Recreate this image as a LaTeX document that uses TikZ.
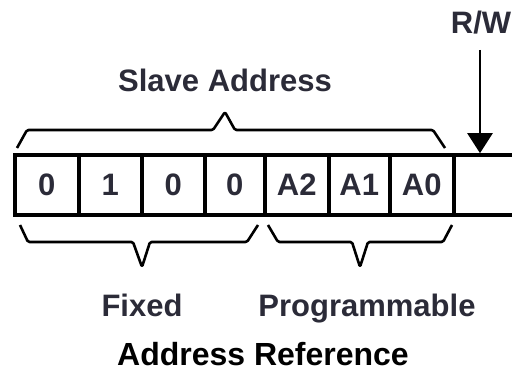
\documentclass[tikz,border=0pt]{standalone}
\usepackage{fontspec}
\setmainfont{Liberation Sans}
\usetikzlibrary{arrows.meta}
\definecolor{txtgray}{HTML}{2B2B38}
\tikzset{
  cell/.style={draw=black, line width=3.6pt, minimum height=60pt, inner sep=0pt, anchor=west,
    font=\fontsize{31}{31}\selectfont\bfseries, text=txtgray},
  brace/.style={draw=black, line width=2.6pt, rounded corners=1.5pt, line join=round},
  lbl/.style={font=\fontsize{31}{31}\selectfont\bfseries, text=txtgray, inner sep=0pt, anchor=base},
  ptr/.style={draw=black, line width=2.6pt, -{Triangle[width=25pt,length=20pt]}}
}
\begin{document}
\begin{tikzpicture}[x=1pt,y=-1pt]
\useasboundingbox (0,0) rectangle (512,374);
% register cells
\node[cell, minimum width=64pt] (c1) at (13,185) {0};
\node[cell, minimum width=63pt] (c2) at (77,185) {1};
\node[cell, minimum width=63pt] (c3) at (140,185) {0};
\node[cell, minimum width=60pt] (c4) at (203,185) {0};
\node[cell, minimum width=64pt] (c5) at (263,185) {A2};
\node[cell, minimum width=61pt] (c6) at (327,185) {A1};
\node[cell, minimum width=64pt] (c7) at (388,185) {A0};
\node[cell, minimum width=64pt] (c8) at (452,185) {};
% labels
\node[lbl] (rw) at (481,34) {R/W};
\node[lbl] (slave) at (225,92) {Slave Address};
\node[lbl] (fixed) at (142,317) {Fixed};
\node[lbl] (prog) at (367,317) {Programmable};
\node[lbl, text=black, font=\fontsize{32}{32}\selectfont\bfseries] (title) at (263,366) {Address Reference};
% R/W arrow
\coordinate (rwstart) at (480,50);
\draw[ptr] (rwstart) -- (rwstart |- c8.north);
% top brace
\draw[brace] (17,148) -- (27,130) -- (213,130) -- (225,112) -- (235,130) -- (433,130) -- (445,148);
% bottom braces
\draw[brace] (20,225) -- (28,242) -- (133,242) -- (142,267) -- (150,242) -- (247,242) -- (258,225);
\draw[brace] (268,225) -- (278,242) -- (352,242) -- (360,267) -- (368,242) -- (443,242) -- (452,225);
\end{tikzpicture}
\end{document}
